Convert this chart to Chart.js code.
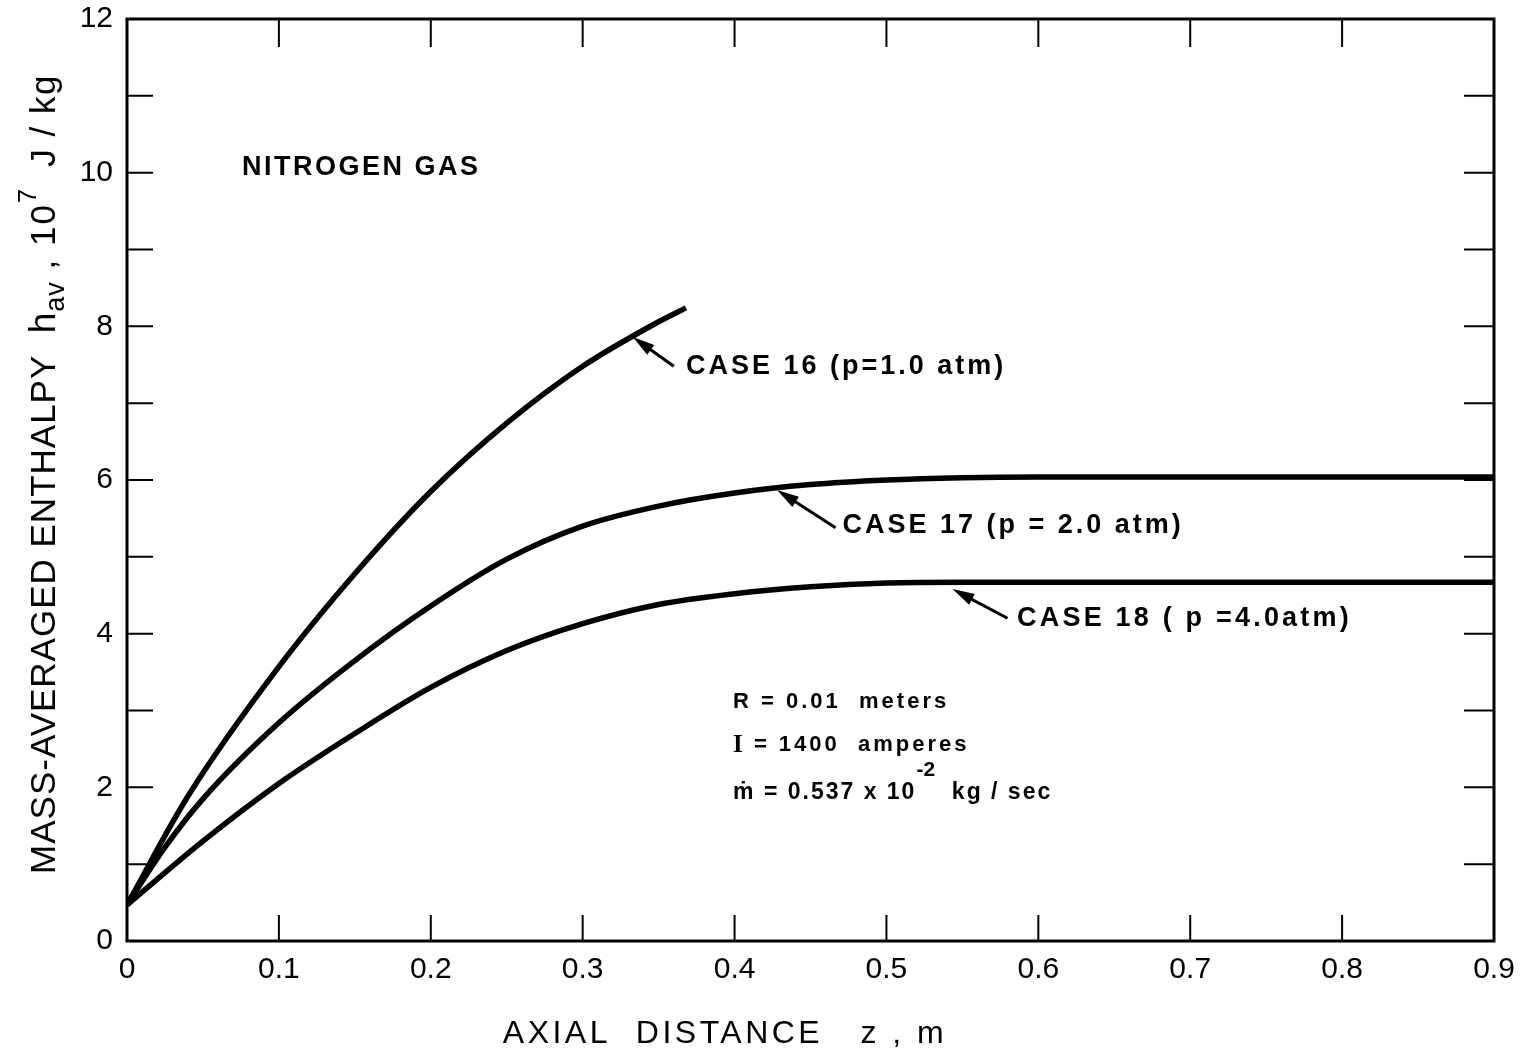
<!DOCTYPE html>
<html>
<head>
<meta charset="utf-8">
<script src="https://cdn.jsdelivr.net/npm/chart.js@4.4.1/dist/chart.umd.min.js"></script>
<style>
  html, body { margin: 0; padding: 0; background: #fff; }
  #wrap { width: 1520px; height: 1058px; position: relative; }
</style>
</head>
<body>
<div id="wrap"><canvas id="enthalpy"></canvas></div>
<script>
// values: axial distance z (m) vs enthalpy h_av (10^7 J/kg)
const zCase16 = [0, 0.04, 0.1, 0.15, 0.2, 0.25, 0.3, 0.35, 0.368];
const hCase16 = [0.47, 1.88, 3.57, 4.78, 5.85, 6.74, 7.48, 8.06, 8.24];

const zCase17 = [0, 0.025, 0.05, 0.1, 0.15, 0.2, 0.25, 0.3, 0.35, 0.4, 0.45, 0.5, 0.55, 0.6, 0.7, 0.9];
const hCase17 = [0.47, 1.22, 1.85, 2.84, 3.65, 4.36, 4.97, 5.40, 5.66, 5.83, 5.94, 6.0, 6.03, 6.04, 6.04, 6.04];

const zCase18 = [0, 0.05, 0.1, 0.15, 0.2, 0.25, 0.3, 0.35, 0.4, 0.45, 0.5, 0.55, 0.6, 0.7, 0.9];
const hCase18 = [0.47, 1.3, 2.05, 2.7, 3.3, 3.78, 4.13, 4.38, 4.52, 4.61, 4.66, 4.67, 4.67, 4.67, 4.67];

const caseLabels = ['CASE 16 (p=1.0 atm)', 'CASE 17 (p = 2.0 atm)', 'CASE 18 ( p =4.0atm)'];

const xTicks = [0, 0.1, 0.2, 0.3, 0.4, 0.5, 0.6, 0.7, 0.8, 0.9];
const yLabelled = [0, 2, 4, 6, 8, 10, 12];

function pts(zs, hs) {
  return zs.map((z, i) => ({ x: z, y: hs[i] }));
}

const SANS = '"Liberation Sans", Arial, sans-serif';

// draws a row of text pieces starting at x, returns end x
function drawRun(ctx, pieces, x, y, measureOnly) {
  let cx = x;
  pieces.forEach(p => {
    ctx.font = p.font;
    ctx.letterSpacing = p.ls || '0px';
    if (!measureOnly) ctx.fillText(p.text, cx, y + (p.dy || 0));
    cx += ctx.measureText(p.text).width;
  });
  return cx;
}

function arrow(ctx, x0, y0, x1, y1) {
  // line from tail (x0,y0) to tip (x1,y1) with filled head
  const ang = Math.atan2(y1 - y0, x1 - x0);
  const len = 22, half = 6;
  ctx.lineWidth = 3;
  ctx.beginPath();
  ctx.moveTo(x0, y0);
  ctx.lineTo(x1 - Math.cos(ang) * len * 0.8, y1 - Math.sin(ang) * len * 0.8);
  ctx.stroke();
  ctx.beginPath();
  ctx.moveTo(x1, y1);
  ctx.lineTo(x1 - Math.cos(ang) * len + Math.sin(ang) * half, y1 - Math.sin(ang) * len - Math.cos(ang) * half);
  ctx.lineTo(x1 - Math.cos(ang) * len - Math.sin(ang) * half, y1 - Math.sin(ang) * len + Math.cos(ang) * half);
  ctx.closePath();
  ctx.fill();
}

const paperPlugin = {
  id: 'paper',
  afterDraw(chart) {
    const { ctx, chartArea: a, scales: { x, y } } = chart;
    const X = v => x.getPixelForValue(v);
    const Y = v => y.getPixelForValue(v);
    ctx.save();
    ctx.strokeStyle = '#000';
    ctx.fillStyle = '#000';

    // frame
    ctx.lineWidth = 3;
    ctx.strokeRect(a.left, a.top, a.width, a.height);

    // inward ticks on all sides
    ctx.lineWidth = 2;
    ctx.beginPath();
    x.ticks.forEach(t => {
      if (t.value <= 0 || t.value >= 0.9 - 1e-9) return;
      const px = X(t.value);
      ctx.moveTo(px, a.bottom); ctx.lineTo(px, a.bottom - 26);
      ctx.moveTo(px, a.top); ctx.lineTo(px, a.top + 28);
    });
    y.ticks.forEach(t => {
      if (t.value <= 0 || t.value >= 12) return;
      const py = Y(t.value);
      ctx.moveTo(a.left, py); ctx.lineTo(a.left + 26, py);
      ctx.moveTo(a.right, py); ctx.lineTo(a.right - 30, py);
    });
    ctx.stroke();

    ctx.textBaseline = 'middle';
    ctx.textAlign = 'left';

    // annotations
    const bold = s => `bold ${s}px ${SANS}`;
    drawRun(ctx, [{ text: 'NITROGEN GAS', font: bold(27), ls: '2.5px' }], X(0.0757), Y(10.07));

    arrow(ctx, X(0.360), Y(7.48), X(0.333), Y(7.86));
    drawRun(ctx, [{ text: caseLabels[0], font: bold(27), ls: '3px' }], X(0.368), Y(7.48));

    arrow(ctx, X(0.4665), Y(5.38), X(0.428), Y(5.87));
    drawRun(ctx, [{ text: caseLabels[1], font: bold(27), ls: '3px' }], X(0.471), Y(5.41));

    arrow(ctx, X(0.5797), Y(4.20), X(0.5435), Y(4.58));
    drawRun(ctx, [{ text: caseLabels[2], font: bold(27), ls: '3.2px' }], X(0.586), Y(4.20));

    const px0 = X(0.399);
    drawRun(ctx, [{ text: 'R = 0.01  meters', font: bold(22), ls: '3px' }], px0, Y(3.11));
    drawRun(ctx, [
      { text: 'I', font: `bold 25px "Liberation Serif", serif`, ls: '2px' },
      { text: ' = 1400  amperes', font: bold(22), ls: '3px' }
    ], px0, Y(2.55));
    drawRun(ctx, [
      { text: 'ṁ = 0.537 x 10', font: bold(23), ls: '2px' },
      { text: '-2', font: bold(21), ls: '0px', dy: -23 },
      { text: '  kg / sec', font: bold(23), ls: '2px' }
    ], px0, Y(1.93));

    // x axis title
    ctx.textBaseline = 'alphabetic';
    const xt = [{ text: 'AXIAL  DISTANCE   z , m', font: `32px ${SANS}`, ls: '3.5px' }];
    const xw = drawRun(ctx, xt, 0, 0, true);
    drawRun(ctx, xt, 725 - xw / 2, 1043);

    // y axis title (rotated)
    const f = s => `${s}px ${SANS}`;
    const yt = [
      { text: 'MASS-AVERAGED ENTHALPY  ', font: f(35), ls: '1px' },
      { text: 'h', font: f(37), ls: '1px' },
      { text: 'av', font: f(27), ls: '1px', dy: 9 },
      { text: ' , 10', font: f(35), ls: '2px' },
      { text: '7', font: f(25), ls: '0px', dy: -19 },
      { text: '  J / kg', font: f(35), ls: '1.5px' }
    ];
    const yw = drawRun(ctx, yt, 0, 0, true);
    ctx.translate(42, 474);
    ctx.rotate(-Math.PI / 2);
    drawRun(ctx, yt, -yw / 2, 12.5);

    ctx.restore();
  }
};

const lineStyle = {
  borderColor: '#000',
  borderWidth: 5.5,
  pointRadius: 0,
  fill: false,
  cubicInterpolationMode: 'monotone'
};

function noOverflow(s) {
  s.paddingTop = 0; s.paddingBottom = 0; s.paddingLeft = 0; s.paddingRight = 0;
}

new Chart(document.getElementById('enthalpy'), {
  type: 'line',
  data: {
    datasets: [
      Object.assign({ label: caseLabels[0], data: pts(zCase16, hCase16) }, lineStyle),
      Object.assign({ label: caseLabels[1], data: pts(zCase17, hCase17) }, lineStyle),
      Object.assign({ label: caseLabels[2], data: pts(zCase18, hCase18) }, lineStyle)
    ]
  },
  options: {
    responsive: true,
    maintainAspectRatio: false,
    animation: false,
    layout: { padding: { top: 19, right: 26, left: 0, bottom: 0 } },
    plugins: { legend: { display: false }, tooltip: { enabled: false } },
    scales: {
      x: {
        type: 'linear',
        min: 0,
        max: 0.9,
        afterFit(s) { s.height = 117; noOverflow(s); },
        afterBuildTicks(s) { s.ticks = xTicks.map(v => ({ value: v })); },
        grid: { display: false, drawTicks: false },
        border: { display: false },
        ticks: {
          padding: 11,
          color: '#000',
          font: { family: SANS, size: 30 },
          callback: v => (v === 0 ? '0' : Number(v).toFixed(1))
        }
      },
      y: {
        type: 'linear',
        min: 0,
        max: 12,
        afterFit(s) { s.width = 127; noOverflow(s); },
        grid: { display: false, drawTicks: false },
        border: { display: false },
        ticks: {
          stepSize: 1,
          padding: 14,
          color: '#000',
          font: { family: SANS, size: 30 },
          callback: v => (yLabelled.includes(v) ? String(v) : '')
        }
      }
    }
  },
  plugins: [paperPlugin]
});
</script>
</body>
</html>
